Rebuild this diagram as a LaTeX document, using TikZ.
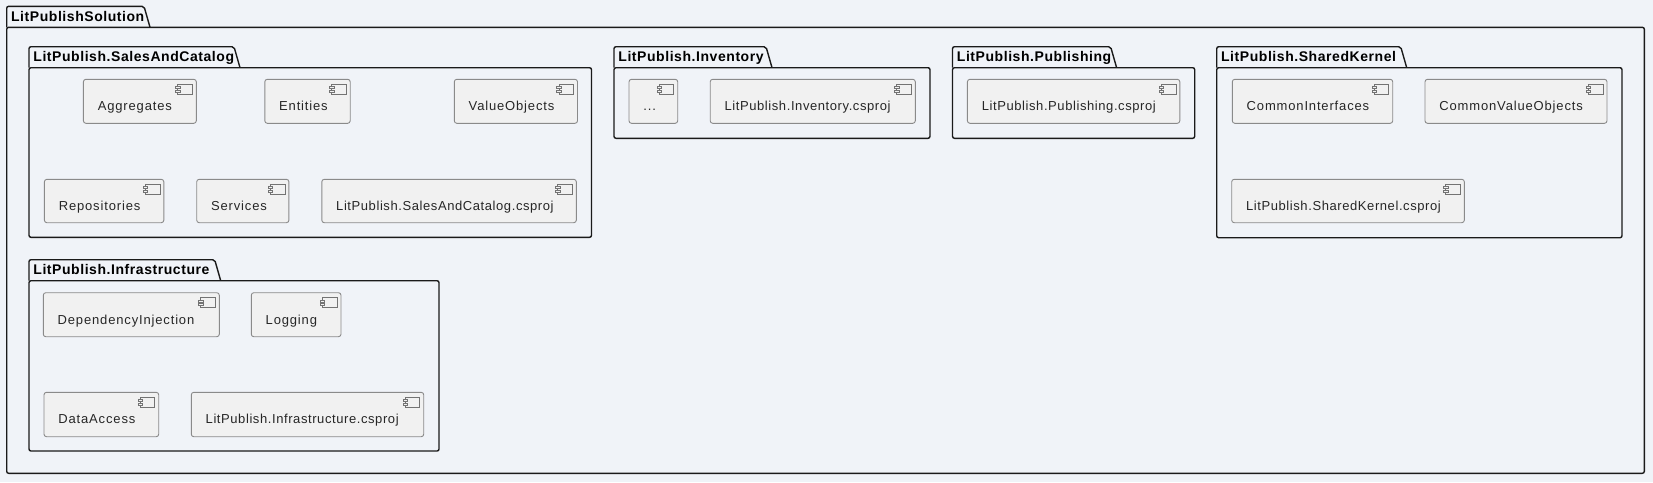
\documentclass[tikz,border=0pt]{standalone}
\usepackage{fontspec}
\usetikzlibrary{calc}
\setmainfont[LetterSpace=6.5]{Liberation Sans}
\newfontfamily\projfont[LetterSpace=4.5]{Liberation Sans}
\newfontfamily\tabfont[LetterSpace=4]{Liberation Sans Bold}

\definecolor{pagebg}{HTML}{F0F3F8}
\definecolor{compbg}{HTML}{F1F1F1}
\definecolor{compline}{HTML}{8A8A8A}
\definecolor{pkgline}{HTML}{1A1A1A}

% package: name, x, y, width, height, tab width, title
\newcommand{\pkg}[7]{
\node[pkgbody, minimum width=#4pt, minimum height=#5pt] (#1) at (#2,#3) {};
\draw[pkgedge] (#1.north west) -- ++(0,-18.5) [rounded corners=2pt] -- ++(0,-2.5) -- ++(#6-6,0) [sharp corners] -- ($(#1.north west)+(#6,0)$);
\node[tabtitle] (#1title) at ([shift={(4.2,-6)}]#1.north west) {#7};
}
% component: name, x, y, width, height, text
\newcommand{\comp}[6]{
\node[compbox, minimum width=#4pt, minimum height=#5pt] (#1) at (#2,#3) {};
\node[complabel] (#1label) at ([shift={(14.2,31.4)}]#1.north west) {#6};
\draw[compicon] ([shift={(-18.6,5)}]#1.north east) rectangle ++(14.6,10);
\draw[compicon] ([shift={(-20.8,7.4)}]#1.north east) rectangle ++(4.4,2);
\draw[compicon] ([shift={(-20.8,10.6)}]#1.north east) rectangle ++(4.4,2);
}

\begin{document}
\begin{tikzpicture}[x=1pt, y=-1pt,
pkgbody/.style={rectangle, draw=pkgline, line width=1.4pt, rounded corners=2pt, anchor=north west, inner sep=0pt, outer sep=0pt},
pkgedge/.style={draw=pkgline, line width=1.4pt},
tabtitle/.style={anchor=base west, inner sep=0pt, font=\fontsize{14pt}{16pt}\tabfont, text=black},
compbox/.style={rectangle, draw=compline, fill=compbg, line width=0.9pt, rounded corners=2.5pt, anchor=north west, inner sep=0pt, outer sep=0pt},
complabel/.style={anchor=base west, inner sep=0pt, font=\fontsize{13pt}{15pt}\selectfont, text=black!85},
compicon/.style={draw=black!55, line width=0.6pt, fill=compbg}]

\useasboundingbox[fill=pagebg] (0,0) rectangle (1653,482);

\pkg{solution}{6.7}{27.3}{1637.6}{446}{143.3}{LitPublishSolution}

\pkg{sales}{29}{67.7}{562.5}{169.6}{211}{LitPublish.SalesAndCatalog}
\comp{aggregates}{83.4}{79.3}{112.9}{44}{Aggregates}
\comp{entities}{264.8}{79.3}{85.4}{44}{Entities}
\comp{valueobjects}{454.3}{79.3}{123.2}{44}{ValueObjects}
\comp{repositories}{44.4}{179.3}{119.4}{43.4}{Repositories}
\comp{services}{196.7}{179.3}{92.2}{43.4}{Services}
\comp{salesproj}{321.8}{179.3}{254.5}{43.4}{\projfont LitPublish.SalesAndCatalog.csproj}

\pkg{inventory}{614}{67.7}{316}{70.6}{158}{LitPublish.Inventory}
\comp{dots}{629}{79.3}{48.7}{44}{...}
\comp{inventoryproj}{710.2}{79.3}{205.1}{44}{\projfont LitPublish.Inventory.csproj}

\pkg{publishing}{952.5}{67.7}{242.2}{70.6}{164.1}{LitPublish.Publishing}
\comp{publishingproj}{967.4}{79.3}{212.4}{44}{\projfont LitPublish.Publishing.csproj}

\pkg{kernel}{1216.7}{67.7}{405.3}{170}{190}{LitPublish.SharedKernel}
\comp{interfaces}{1232.3}{79.3}{160.4}{44}{CommonInterfaces}
\comp{commonvalues}{1425}{79.3}{182}{44}{CommonValueObjects}
\comp{kernelproj}{1231.7}{179.3}{232.6}{43.4}{\projfont LitPublish.SharedKernel.csproj}

\pkg{infra}{29}{280.7}{410}{170.3}{191.7}{LitPublish.Infrastructure}
\comp{injection}{43.3}{292.7}{176}{44}{DependencyInjection}
\comp{logging}{251.3}{292.7}{89.7}{44}{Logging}
\comp{dataaccess}{44}{392.3}{114.7}{44.4}{DataAccess}
\comp{infraproj}{191.3}{392.3}{232.4}{44.4}{\projfont LitPublish.Infrastructure.csproj}

\end{tikzpicture}
\end{document}
